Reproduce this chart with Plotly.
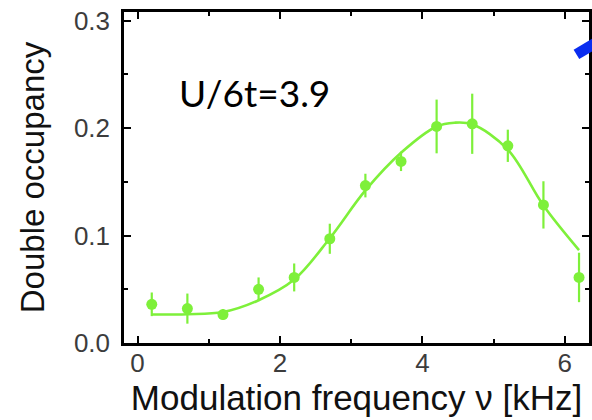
import plotly.graph_objects as go

freq_khz = [0.2, 0.7, 1.2, 1.7, 2.2, 2.7, 3.2, 3.7, 4.2, 4.7, 5.2, 5.7, 6.2]
double_occ = [0.036, 0.032, 0.0265, 0.050, 0.061, 0.097, 0.1465, 0.169, 0.2015, 0.204, 0.1835, 0.1285, 0.061]
double_occ_err = [0.011, 0.014, 0.005, 0.011, 0.013, 0.014, 0.011, 0.009, 0.025, 0.028, 0.015, 0.022, 0.023]

# Fitted curve
fit_x = [0.2, 0.7, 1.2, 1.7, 2.2, 2.7, 3.2, 3.7, 4.2, 4.45, 4.7, 5.2, 5.7, 6.2]
fit_y = [0.0265, 0.0268, 0.0288, 0.0398, 0.059, 0.0975, 0.142, 0.177, 0.2015, 0.205, 0.2035, 0.180, 0.128, 0.0865]

x_ticks = [0, 2, 4, 6]
y_ticks = [0.0, 0.1, 0.2, 0.3]
label_text = "U/6t=3.9"

GREEN = "#7ef03a"
AXFONT = "Liberation Sans, Arial, sans-serif"

fig = go.Figure()
fig.add_trace(go.Scatter(
    x=fit_x, y=fit_y, mode="lines",
    line=dict(color=GREEN, width=2.6, shape="spline", smoothing=1.0),
    hoverinfo="skip", showlegend=False,
))
fig.add_trace(go.Scatter(
    x=freq_khz, y=double_occ, mode="markers",
    marker=dict(color=GREEN, size=11),
    error_y=dict(type="data", array=double_occ_err, visible=True,
                 color=GREEN, thickness=2.2, width=0),
    showlegend=False,
))

fig.add_annotation(
    x=1.64, y=0.2335, xref="x", yref="y", text=label_text, showarrow=False,
    font=dict(family="Lato, Calibri, sans-serif", size=37, color="#000000"),
    xanchor="center", yanchor="middle",
)

# Blue arrow fragment entering from the right edge
fig.add_shape(type="line", xref="paper", yref="paper",
              x0=0.973, y0=0.872, x1=1.03, y1=0.92,
              line=dict(color="#0a2df0", width=11))

axis_common = dict(
    showline=True, linecolor="black", linewidth=2.5, mirror="ticks",
    ticks="inside", ticklen=7, tickwidth=2, tickcolor="black",
    showgrid=False, zeroline=False,
    tickfont=dict(family=AXFONT, size=26, color="#3c3c3c"),
)

fig.update_xaxes(
    range=[-0.19, 6.34], tickvals=x_ticks,
    minor=dict(dtick=1, tick0=0, ticks="inside", ticklen=4, tickwidth=2, tickcolor="black"),
    title=dict(text="Modulation frequency ν [kHz]", standoff=4,
               font=dict(family=AXFONT, size=35, color="#111111")),
    ticklabelstandoff=-5,
    **axis_common,
)
fig.update_yaxes(
    range=[0, 0.308], tickvals=y_ticks, tickformat=".1f",
    minor=dict(dtick=0.05, tick0=0, ticks="inside", ticklen=4, tickwidth=2, tickcolor="black"),
    title=dict(text="Double occupancy", standoff=20,
               font=dict(family=AXFONT, size=33, color="#111111")),
    ticklabelstandoff=6,
    **axis_common,
)

fig.update_layout(
    width=592, height=420,
    margin=dict(l=124, r=0, t=12, b=77),
    paper_bgcolor="white", plot_bgcolor="white",
)

fig.write_html("out.html")
